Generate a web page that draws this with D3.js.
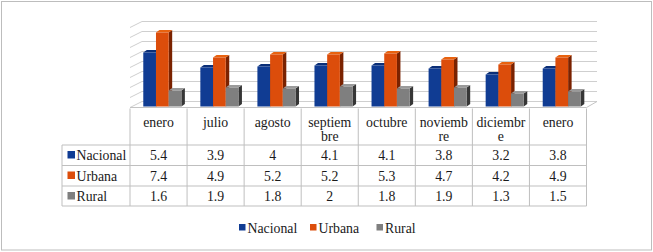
<!DOCTYPE html>
<html>
<head>
<meta charset="utf-8">
<script src="https://cdn.jsdelivr.net/npm/d3@7"></script>
<style>
  body { margin: 0; background: #fff; }
</style>
</head>
<body>
<div id="chart"></div>
<script>
// data
const months = [["enero"], ["julio"], ["agosto"], ["septiem", "bre"], ["octubre"], ["noviemb", "re"], ["diciembr", "e"], ["enero"]];
const seriesNames = ["Nacional", "Urbana", "Rural"];
const nacional = [5.4, 3.9, 4, 4.1, 4.1, 3.8, 3.2, 3.8];
const urbana = [7.4, 4.9, 5.2, 5.2, 5.3, 4.7, 4.2, 4.9];
const rural = [1.6, 1.9, 1.8, 2, 1.8, 1.9, 1.3, 1.5];
const gridTicks = [0, 1, 2, 3, 4, 5, 6, 7, 8];

const width = 653, height = 252;
const FONT = "Liberation Serif, Tinos, Noto Serif, DejaVu Serif, FreeSerif, Times New Roman, Times, serif";
const front = { "Nacional": "#103c93", "Urbana": "#dc4d0b", "Rural": "#7f7f7f" };
const topC = { "Nacional": "#0b2f78", "Urbana": "#e8620f", "Rural": "#9a9a9a" };
const sideC = { "Nacional": "#0a1f5c", "Urbana": "#7a2200", "Rural": "#363636" };
const series = [nacional, urbana, rural];

const svg = d3.select("#chart").append("svg").attr("width", width).attr("height", height);
svg.append("rect").attr("x", 1.5).attr("y", 1.5).attr("width", 650).attr("height", 248.5)
  .attr("fill", "#fff").attr("stroke", "#bdbdbd");

// plot geometry
const left = 130, right = 586.5, floorY = 107.5;
const depth = { dx: 12, dy: -6 };
const x = d3.scaleBand().domain(d3.range(months.length)).range([left, right]);
const y = d3.scaleLinear().domain([0, 8]).range([floorY, floorY - 80]);

// walls: back gridlines + left wall diagonals
const grid = svg.append("g").attr("stroke", "#cfcfcf").attr("fill", "none");
grid.selectAll(".back").data(gridTicks).join("line")
  .attr("x1", left + depth.dx).attr("x2", right + depth.dx - 1.5)
  .attr("y1", d => y(d) + depth.dy).attr("y2", d => y(d) + depth.dy);
grid.selectAll(".side").data(gridTicks).join("line")
  .attr("x1", left).attr("x2", left + depth.dx)
  .attr("y1", d => y(d)).attr("y2", d => y(d) + depth.dy);
grid.append("path")
  .attr("d", `M${left},${floorY}L${right},${floorY}L${right + depth.dx - 1.5},${floorY + depth.dy}`)
  .attr("stroke", "#c4c4c4");

// 3D bars
const barW = 12.7, shift = 3.8, bd = { dx: 3.5, dy: -2.5 };
const bars = svg.append("g");
months.forEach((m, i) => {
  const cx = x(i) + x.bandwidth() / 2 + shift;
  seriesNames.forEach((s, j) => {
    const v = series[j][i];
    const x0 = cx - barW * 1.5 + j * barW, x1 = x0 + barW;
    const y0 = y(0) - 1, yt = y(v) - 1;
    const g = bars.append("g");
    g.append("path").attr("fill", sideC[s])
      .attr("d", `M${x1},${yt}L${x1 + bd.dx},${yt + bd.dy}L${x1 + bd.dx},${y0 + bd.dy}L${x1},${y0}Z`);
    g.append("path").attr("fill", topC[s])
      .attr("d", `M${x0},${yt}L${x1},${yt}L${x1 + bd.dx},${yt + bd.dy}L${x0 + bd.dx},${yt + bd.dy}Z`);
    g.append("rect").attr("fill", front[s])
      .attr("x", x0).attr("y", yt).attr("width", barW).attr("height", y0 - yt);
  });
});

// data table
const rowTops = [145, 165.5, 186, 206];
const tbl = svg.append("g").attr("stroke", "#bfbfbf").attr("fill", "none");
d3.range(months.length + 1).forEach(i => {
  const xx = left + i * x.step();
  tbl.append("line").attr("x1", xx).attr("x2", xx).attr("y1", floorY + 1).attr("y2", rowTops[3]);
});
tbl.append("line").attr("x1", 62).attr("x2", 62).attr("y1", rowTops[0]).attr("y2", rowTops[3]);
rowTops.forEach(r => tbl.append("line").attr("x1", 62).attr("x2", right).attr("y1", r).attr("y2", r));

const txt = sel => sel.attr("font-family", FONT).attr("font-size", 13.8).attr("fill", "#1a1a1a");
months.forEach((m, i) => {
  const t = svg.append("text").call(txt).attr("text-anchor", "middle")
    .attr("x", x(i) + x.bandwidth() / 2).attr("y", 126.5);
  m.forEach((line, k) => t.append("tspan").attr("x", x(i) + x.bandwidth() / 2).attr("dy", k ? 14.5 : 0).text(line));
});
seriesNames.forEach((s, j) => {
  const base = rowTops[j] + 15;
  svg.append("rect").attr("x", 67.5).attr("y", base - 9).attr("width", 7.5).attr("height", 7.5).attr("fill", front[s]);
  svg.append("text").call(txt).attr("x", 76.5).attr("y", base).text(s);
  svg.selectAll(null).data(series[j]).join("text").call(txt)
    .attr("text-anchor", "middle")
    .attr("x", (d, i) => x(i) + x.bandwidth() / 2).attr("y", base)
    .text(d => d);
});

// legend
const legendX = [239, 310, 376.5];
const legend = svg.append("g");
seriesNames.forEach((s, j) => {
  legend.append("rect").attr("x", legendX[j]).attr("y", 224).attr("width", 6.5).attr("height", 6.5).attr("fill", front[s]);
  legend.append("text").call(txt).attr("x", legendX[j] + 8.5).attr("y", 233).text(s);
});
</script>
</body>
</html>
